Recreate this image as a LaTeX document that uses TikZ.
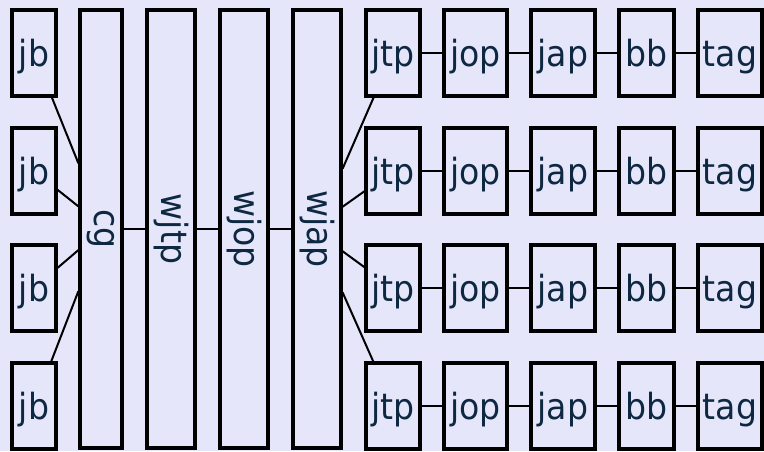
\documentclass[tikz,border=0pt]{standalone}
\usepackage{fontspec}
\setmainfont{DejaVu Sans}[FakeStretch=0.92]
\definecolor{lavbg}{HTML}{E6E6FA}
\definecolor{boxtext}{HTML}{0E2841}
\begin{document}
\begin{tikzpicture}[x=1pt,y=-1pt,
		box/.style={draw=black,line width=3.2pt,fill=lavbg,text=boxtext,inner sep=0pt,
			font=\fontsize{36}{42}\selectfont,minimum height=86pt},
		word/.style={box,text height=30pt,text depth=4pt},
		col/.style={box,minimum height=438pt},
		link/.style={black,line width=2.8pt},
		fan/.style={black,line width=2pt}]
		\fill [lavbg] (0,0) rectangle (764,451);
		% left: jb boxes and the columns
		\node [word,minimum width=44pt] (jb1) at (34,53) {jb};
		\node [word,minimum width=44pt] (jb2) at (34,171) {jb};
		\node [word,minimum width=44pt] (jb3) at (34,288) {jb};
		\node [word,minimum width=44pt] (jb4) at (34,406) {jb};
		\node [col,minimum width=42pt] (cg) at (101,229) {\rotatebox{-90}{cg}};
		\node [col,minimum width=48pt] (wjtp) at (171,229) {\rotatebox{-90}{wjtp}};
		\node [col,minimum width=48pt] (wjop) at (244,229) {\rotatebox{-90}{wjop}};
		\node [col,minimum width=48pt] (wjap) at (317,229) {\rotatebox{-90}{wjap}};
		% right: four rows
		\node [word,minimum width=54pt] (jtp1) at (393,53) {jtp};
		\node [word,minimum width=63pt] (jop1) at (475.5,53) {jop};
		\node [word,minimum width=64pt] (jap1) at (563,53) {jap};
		\node [word,minimum width=55pt] (bb1) at (646.5,53) {bb};
		\node [word,minimum width=64pt] (tag1) at (730,53) {tag};
		\node [word,minimum width=54pt] (jtp2) at (393,171) {jtp};
		\node [word,minimum width=63pt] (jop2) at (475.5,171) {jop};
		\node [word,minimum width=64pt] (jap2) at (563,171) {jap};
		\node [word,minimum width=55pt] (bb2) at (646.5,171) {bb};
		\node [word,minimum width=64pt] (tag2) at (730,171) {tag};
		\node [word,minimum width=54pt] (jtp3) at (393,288) {jtp};
		\node [word,minimum width=63pt] (jop3) at (475.5,288) {jop};
		\node [word,minimum width=64pt] (jap3) at (563,288) {jap};
		\node [word,minimum width=55pt] (bb3) at (646.5,288) {bb};
		\node [word,minimum width=64pt] (tag3) at (730,288) {tag};
		\node [word,minimum width=54pt] (jtp4) at (393,406) {jtp};
		\node [word,minimum width=63pt] (jop4) at (475.5,406) {jop};
		\node [word,minimum width=64pt] (jap4) at (563,406) {jap};
		\node [word,minimum width=55pt] (bb4) at (646.5,406) {bb};
		\node [word,minimum width=64pt] (tag4) at (730,406) {tag};
		% connectors
		\draw [fan] (jb1) -- (cg.109.6);
		\draw [fan] (jb2) -- (cg.135);
		\draw [fan] (jb3) -- (cg.223.6);
		\draw [fan] (jb4) -- (cg.250.4);
		\draw [link] (cg) -- (wjtp);
		\draw [link] (wjtp) -- (wjop);
		\draw [link] (wjop) -- (wjap);
		\draw [fan] (wjap.67.9) -- (jtp1);
		\draw [fan] (wjap.41.2) -- (jtp2);
		\draw [fan] (wjap.-41.2) -- (jtp3);
		\draw [fan] (wjap.-68.5) -- (jtp4);
		\draw [link] (jtp1) -- (jop1) -- (jap1) -- (bb1) -- (tag1);
		\draw [link] (jtp2) -- (jop2) -- (jap2) -- (bb2) -- (tag2);
		\draw [link] (jtp3) -- (jop3) -- (jap3) -- (bb3) -- (tag3);
		\draw [link] (jtp4) -- (jop4) -- (jap4) -- (bb4) -- (tag4);
	\end{tikzpicture}
\end{document}
